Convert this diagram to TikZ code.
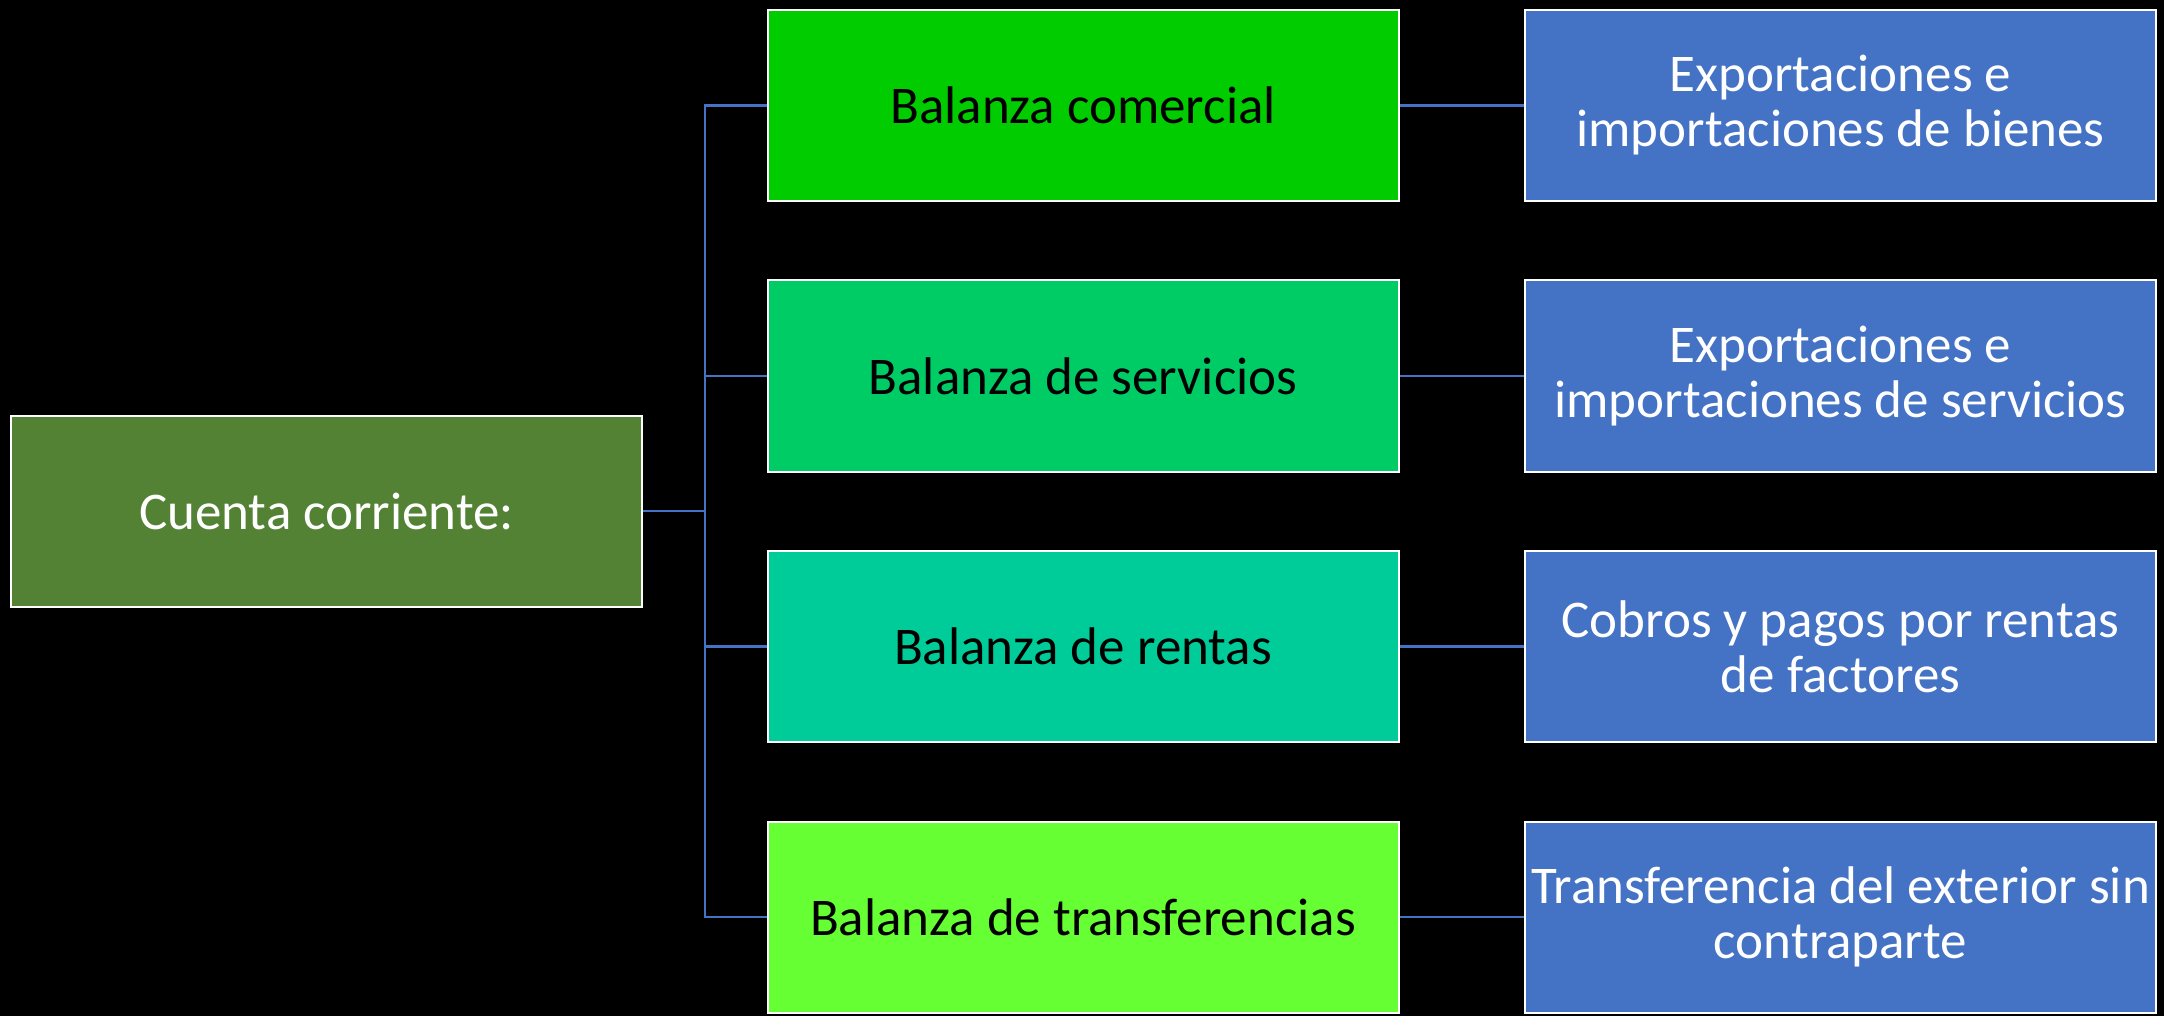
\documentclass[tikz,border=0pt]{standalone}
\usepackage{fontspec}
\setmainfont{Carlito}
\definecolor{rootc}{HTML}{548235}
\definecolor{mida}{HTML}{00CC00}
\definecolor{midb}{HTML}{00CC66}
\definecolor{midc}{HTML}{00CC99}
\definecolor{midd}{HTML}{66FF33}
\definecolor{rightc}{HTML}{4472C4}
\definecolor{linec}{HTML}{4472C4}
\begin{document}
\begin{tikzpicture}[x=0.5pt,y=-0.5pt,
  box/.style={draw=white,line width=1pt,minimum width=315.5pt,minimum height=95.5pt,
    inner sep=0pt,align=center,font=\fontsize{26.5}{27.5}\selectfont},
  rootbox/.style={box,fill=rootc,text=white},
  midbox/.style={box,text=black},
  detbox/.style={box,fill=rightc,text=white},
  conn/.style={draw=linec,line width=1.2pt}]
\fill[black] (0,0) rectangle (2164,1016);
\useasboundingbox (0,0) rectangle (2164,1016);
\node[rootbox] (root) at (326.5,511) {Cuenta corriente:};
\node[midbox,fill=mida] (m1) at (1083,105.5) {Balanza comercial};
\node[midbox,fill=midb] (m2) at (1083,376) {Balanza de servicios};
\node[midbox,fill=midc] (m3) at (1083,646.5) {Balanza de rentas};
\node[midbox,fill=midd] (m4) at (1083,917) {Balanza de transferencias};
\node[detbox] (r1) at (1840.5,105.5) {Exportaciones e\\importaciones de bienes};
\node[detbox] (r2) at (1840.5,376) {Exportaciones e\\importaciones de servicios};
\node[detbox] (r3) at (1840.5,646.5) {Cobros y pagos por rentas\\de factores};
\node[detbox] (r4) at (1840.5,917) {Transferencia del exterior sin\\contraparte};
\coordinate (tr) at (705,511);
\draw[conn] (root.east) -- (tr);
\draw[conn] (tr) |- (m1.west);
\draw[conn] (tr) |- (m2.west);
\draw[conn] (tr) |- (m3.west);
\draw[conn] (tr) |- (m4.west);
\draw[conn] (m1.east) -- (r1.west);
\draw[conn] (m2.east) -- (r2.west);
\draw[conn] (m3.east) -- (r3.west);
\draw[conn] (m4.east) -- (r4.west);
\end{tikzpicture}
\end{document}
